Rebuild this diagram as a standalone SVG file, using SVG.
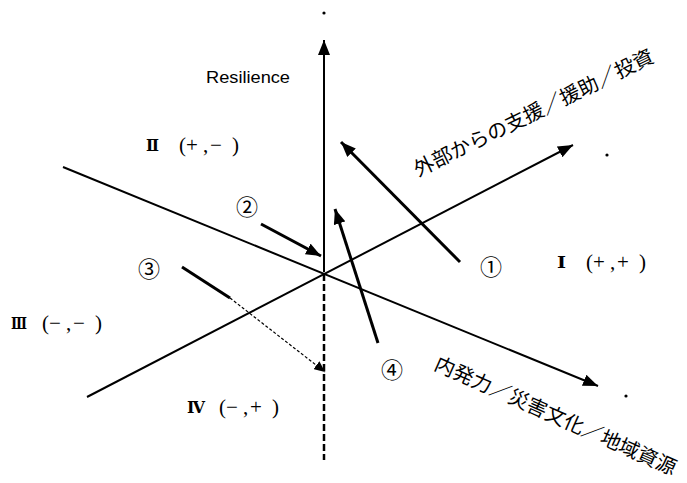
<svg xmlns="http://www.w3.org/2000/svg" width="687" height="483" viewBox="0 0 687 483">
<defs>
<marker id="ah" markerUnits="userSpaceOnUse" markerWidth="16" markerHeight="12" refX="15" refY="6" orient="auto">
<path d="M0,0 L15,6 L0,12 z" fill="#000"/>
</marker>
<marker id="ahs" markerUnits="userSpaceOnUse" markerWidth="12" markerHeight="10" refX="11" refY="5" orient="auto">
<path d="M0,0 L11,5 L0,10 z" fill="#000"/>
</marker>
<style>
.axis{stroke:#000;stroke-width:2;fill:none}
.arr{stroke:#000;stroke-width:3;fill:none}
.lbl{font-family:"Noto Sans CJK JP",sans-serif;font-size:20px;fill:#000}
.q{font-family:"DejaVu Serif","Noto Sans CJK JP",serif;font-weight:bold;font-size:17px;fill:#000}
.qp{font-family:"Liberation Serif","Times New Roman",serif;font-size:21px;fill:#000}
.num{font-family:"Noto Sans CJK JP",sans-serif;font-size:22px;fill:#000}
</style>
</defs>
<rect width="687" height="483" fill="#fff"/>
<g id="connectors">
<line class="axis" x1="324" y1="272" x2="324" y2="40" marker-end="url(#ah)"/>
<line x1="324" y1="274" x2="324" y2="460" stroke="#000" stroke-width="2.5" stroke-dasharray="7,3"/>
<line class="axis" x1="87" y1="397" x2="573" y2="145" marker-end="url(#ah)"/>
<line class="axis" x1="63" y1="167" x2="598" y2="386" marker-end="url(#ah)"/>
<line class="arr" x1="460" y1="262" x2="341" y2="142" marker-end="url(#ah)"/>
<line class="arr" x1="261" y1="224" x2="321" y2="256" marker-end="url(#ah)"/>
<line class="arr" x1="378" y1="343" x2="335" y2="209" marker-end="url(#ah)"/>
<line class="arr" x1="182" y1="267" x2="230" y2="298"/>
<line x1="230" y1="298" x2="325" y2="372" stroke="#000" stroke-width="1.2" stroke-dasharray="3,2" marker-end="url(#ahs)"/>
</g>
<g id="dots">
<circle cx="324" cy="13" r="1.6" fill="#000"/>
<circle cx="607" cy="155" r="1.6" fill="#000"/>
<circle cx="626" cy="396" r="1.6" fill="#000"/>
</g>
<g id="resilience">
<text x="206" y="83" font-family="Liberation Sans, Arial, sans-serif" font-size="17" textLength="84" lengthAdjust="spacingAndGlyphs">Resilience</text>
</g>
<g id="axis-external">
<text class="lbl" transform="translate(418,177) rotate(-26)" textLength="264" lengthAdjust="spacingAndGlyphs">外部からの支援／援助／投資</text>
</g>
<g id="axis-internal">
<text class="lbl" transform="translate(433,369) rotate(24)" textLength="262" lengthAdjust="spacingAndGlyphs">内発力／災害文化／地域資源</text>
</g>
<g id="q1">
<text class="q" x="557" y="268" textLength="9" lengthAdjust="spacingAndGlyphs">Ⅰ</text>
<text class="qp" x="586 593 610 617 639" y="269">(+,+)</text>
</g>
<g id="q2">
<text class="q" x="146" y="151" textLength="13" lengthAdjust="spacingAndGlyphs">Ⅱ</text>
<text class="qp" x="179 186 203 210 232" y="152">(+,−)</text>
</g>
<g id="q3">
<text class="q" x="11" y="329" textLength="16" lengthAdjust="spacingAndGlyphs">Ⅲ</text>
<text class="qp" x="42 49 66 73 95" y="330">(−,−)</text>
</g>
<g id="q4">
<text class="q" x="187" y="413" textLength="18" lengthAdjust="spacingAndGlyphs">Ⅳ</text>
<text class="qp" x="219 226 243 250 272" y="414">(−,+)</text>
</g>
<g id="n1"><text class="num" x="491" y="275" text-anchor="middle">①</text></g>
<g id="n2"><text class="num" x="247" y="215" text-anchor="middle">②</text></g>
<g id="n3"><text class="num" x="149" y="277" text-anchor="middle">③</text></g>
<g id="n4"><text class="num" x="392" y="378" text-anchor="middle">④</text></g>
</svg>
